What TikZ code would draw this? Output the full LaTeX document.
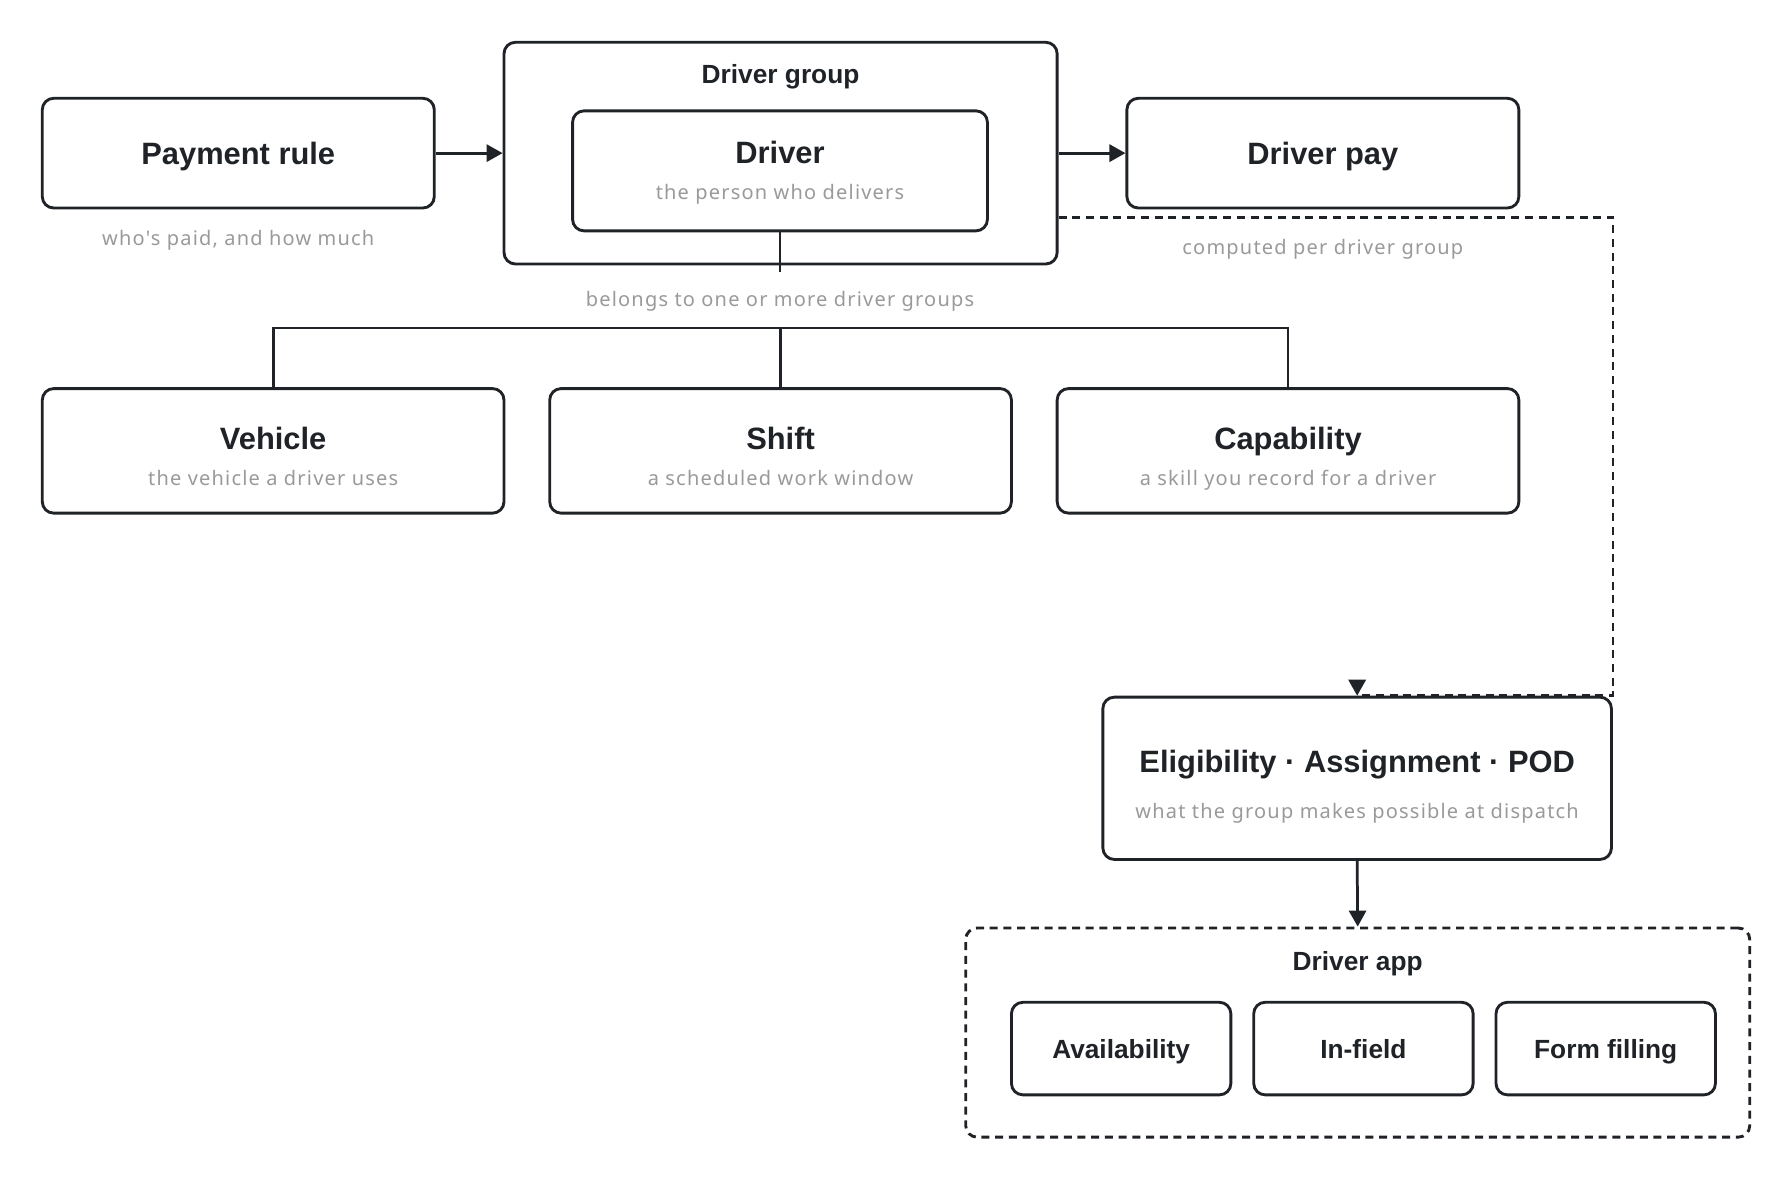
\documentclass[tikz,border=0pt]{standalone}
\usepackage{fontspec}
\setmainfont{Noto Sans}
\newfontfamily\capfont[LetterSpace=6]{Noto Sans}
\newfontfamily\ttlfont{Liberation Sans}
\usetikzlibrary{arrows.meta}
\definecolor{ink}{HTML}{1F2226}
\definecolor{sub}{HTML}{9A9A9A}
\tikzset{
  box/.style={draw=ink, line width=2.5pt, rounded corners=10pt, inner sep=0pt},
  ttl/.style={text=ink, font=\ttlfont\fontsize{27}{31}\selectfont\bfseries, inner sep=0pt, anchor=base},
  gttl/.style={text=ink, font=\ttlfont\fontsize{23}{27}\selectfont\bfseries, inner sep=0pt, anchor=base},
  captxt/.style={text=sub, font=\capfont\fontsize{17.5}{21}\selectfont, inner sep=0pt, anchor=base},
  link/.style={draw=ink, line width=2.4pt},
  arr/.style={draw=ink, line width=2.4pt, -{Triangle[length=14pt,width=15pt]}},
  dashline/.style={draw=ink, line width=2.4pt, dash pattern=on 7pt off 5pt},
}
\begin{document}
\begin{tikzpicture}[x=1pt,y=-1pt]
\useasboundingbox (0,0) rectangle (1568,1032);
\fill[white] (0,0) rectangle (1568,1032);

% top row
\node[box, minimum width=343pt, minimum height=96pt] (pay) at (208.5,134) {};
\node[ttl] (payt) at (208.5,144) {Payment rule};
\node[captxt] (payc) at (208.5,215) {who's paid, and how much};

\node[box, minimum width=484pt, minimum height=194pt] (dg) at (683,134) {};
\node[gttl] (dgt) at (683,73.5) {Driver group};
\node[box, minimum width=363pt, minimum height=105pt] (drv) at (682.5,149.5) {};
\node[ttl] (drvt) at (682.5,143) {Driver};
\node[captxt] (drvc) at (682.5,175) {the person who delivers};

\node[box, minimum width=343pt, minimum height=96pt] (dpay) at (1157.5,134) {};
\node[ttl] (dpayt) at (1157.5,144) {Driver pay};
\node[captxt] (dpayc) at (1157.5,223) {computed per driver group};

\draw[arr] (pay.east) -- (dg.west);
\draw[arr] (dg.east) -- (dpay.west);

% driver -> attributes
\coordinate (drvend) at (682.5,238);
\draw[link] (drv.south) -- (drvend);
\node[captxt] (belong) at (682.5,268) {belongs to one or more driver groups};
\coordinate (bar) at (0,287);

\node[box, minimum width=404pt, minimum height=109pt] (veh) at (239,394.5) {};
\node[ttl] (veht) at (239,393) {Vehicle};
\node[captxt] (vehc) at (239,425) {the vehicle a driver uses};

\node[box, minimum width=404pt, minimum height=109pt] (shift) at (683,394.5) {};
\node[ttl] (shiftt) at (683,393) {Shift};
\node[captxt] (shiftc) at (683,425) {a scheduled work window};

\node[box, minimum width=404pt, minimum height=109pt] (capb) at (1127,394.5) {};
\node[ttl] (capt) at (1127,393) {Capability};
\node[captxt] (capc) at (1127,425) {a skill you record for a driver};

\draw[link] (veh.north) -- (veh.north |- bar) -- (capb.north |- bar) -- (capb.north);
\draw[link] (shift.north |- bar) -- (shift.north);

% eligibility
\node[box, minimum width=445pt, minimum height=142pt] (elig) at (1187.5,681) {};
\node[ttl] (eligt) at (1187.5,676) {Eligibility · Assignment · POD};
\node[captxt] (eligc) at (1187.5,716) {what the group makes possible at dispatch};

\coordinate (dashy) at (0,190);
\draw[dashline] (dg.east |- dashy) -- (elig.east |- dashy) -- (elig.north east) -- (elig.north);
\draw[arr] ([yshift=14pt]elig.north) -- (elig.north);

% driver app
\node[box, dash pattern=on 7pt off 5pt, minimum width=686pt, minimum height=183pt] (app) at (1188,903.5) {};
\node[gttl] (appt) at (1188,849) {Driver app};
\draw[arr] (elig.south) -- (app.north);

\node[box, minimum width=192pt, minimum height=81pt] (avail) at (981,917.5) {};
\node[gttl] (availt) at (981,926) {Availability};
\node[box, minimum width=192pt, minimum height=81pt] (infield) at (1193,917.5) {};
\node[gttl] (infieldt) at (1193,926) {In-field};
\node[box, minimum width=192pt, minimum height=81pt] (form) at (1405,917.5) {};
\node[gttl] (formt) at (1405,926) {Form filling};
\end{tikzpicture}
\end{document}
